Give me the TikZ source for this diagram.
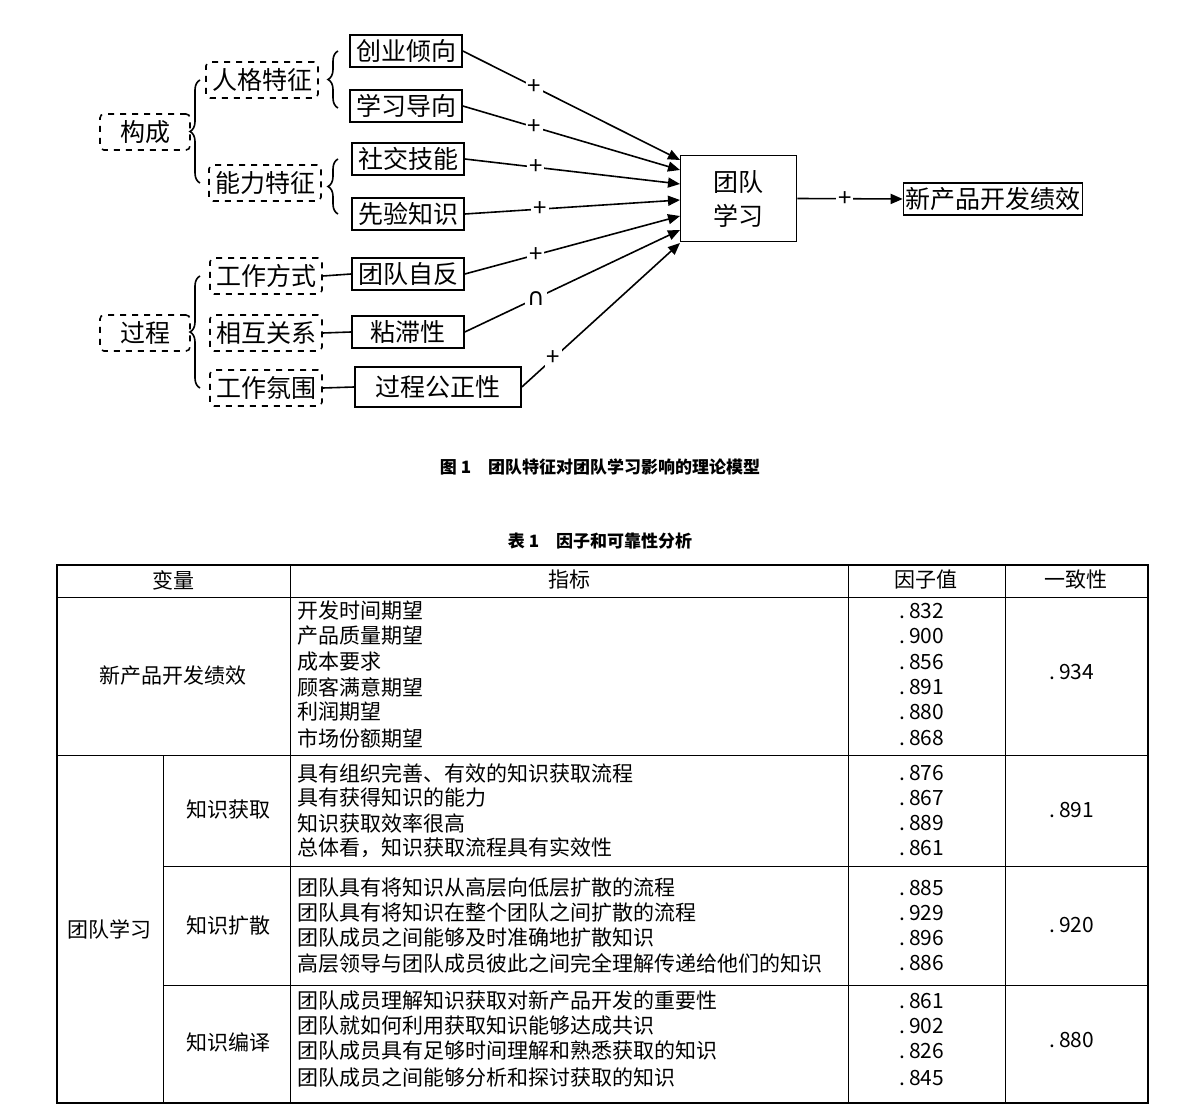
\documentclass[tikz,border=0pt]{standalone}
\usepackage{fontspec}
\setmainfont{Noto Sans CJK SC}
\newfontfamily\djv{DejaVu Sans}
\usetikzlibrary{decorations.pathreplacing,arrows.meta}
\begin{document}
\begin{tikzpicture}[x=0.5pt,y=-0.5pt,
  dbox/.style={draw,dashed,thick,rounded corners=2pt,minimum width=56pt,minimum height=18pt,inner sep=1pt,font=\fontsize{12.5}{14}\selectfont},
  sbox/.style={draw,thick,minimum width=56pt,minimum height=16pt,inner sep=1pt,font=\fontsize{12.5}{14}\selectfont},
  arr/.style={thick,-{Triangle[length=6pt,width=5pt]}},
  lab/.style={fill=white,inner sep=1pt,font=\fontsize{12}{12}\selectfont},
  brc/.style={decorate,decoration={brace,amplitude=5pt},thick},
  tx/.style={font=\fontsize{10.5}{11}\selectfont,inner sep=0pt},
  txl/.style={tx,anchor=west},
  captxt/.style={font=\bfseries\fontsize{8.5}{10}\selectfont}]
\useasboundingbox (0,0) rectangle (1200,1112);
% dashed boxes
\node[dbox,minimum width=45pt] (gc) at (145,132) {构成};
\node[dbox,minimum width=45pt] (gch) at (145,333) {过程};
\node[dbox] (rg) at (262,80) {人格特征};
\node[dbox] (nl) at (265,183) {能力特征};
\node[dbox] (gf) at (266,276) {工作方式};
\node[dbox] (xh) at (266,333) {相互关系};
\node[dbox] (fw) at (266,388) {工作氛围};
% solid boxes
\node[sbox] (cy) at (406,51) {创业倾向};
\node[sbox] (xx) at (406,106) {学习导向};
\node[sbox] (sj) at (408,159) {社交技能};
\node[sbox] (xy) at (408,214) {先验知识};
\node[sbox] (tz) at (408,274) {团队自反};
\node[sbox] (nz) at (408,332) {粘滞性};
\node[sbox,minimum width=83pt,minimum height=20pt] (gz) at (438,387) {过程公正性};
\node[draw,thick,minimum width=58pt,minimum height=43pt,align=center,font=\fontsize{12.5}{17}\selectfont] (tl) at (738.5,198.5) {团队\\学习};
\node[sbox,minimum width=88pt,font=\fontsize{12.5}{14}\selectfont] (xc) at (993,199) {新产品开发绩效};
% braces
\draw[brc] (200,183) -- (200,80);
\draw[brc] (338,108) -- (338,51);
\draw[brc] (338,214) -- (338,159);
\draw[brc] (200,388) -- (200,276);
\draw[thick] (gf.east) -- (tz.west);
\draw[thick] (xh.east) -- (nz.west);
\draw[thick] (fw.east) -- (gz.west);
% arrows to team learning
\coordinate (t1) at (680,160);
\coordinate (t2) at (680,170);
\coordinate (t3) at (680,184);
\coordinate (t4) at (680,200);
\coordinate (t5) at (680,216);
\coordinate (t6) at (680,230);
\coordinate (t7) at (680,243);
\draw[arr] (cy.east) -- node[lab,pos=0.33]{+} (t1);
\draw[arr] (xx.east) -- node[lab,pos=0.33]{+} (t2);
\draw[arr] (sj.east) -- node[lab,pos=0.33]{+} (t3);
\draw[arr] (xy.east) -- node[lab,pos=0.35]{+} (t4);
\draw[arr] (tz.east) -- node[lab,pos=0.33]{+} (t5);
\draw[arr] (nz.east) -- node[lab,pos=0.33,font=\djv\fontsize{12}{12}\selectfont]{∩} (t6);
\draw[arr] (gz.east) -- node[lab,pos=0.2]{+} (t7);
\draw[arr] (tl.east) -- node[lab,pos=0.45]{+} (xc.west);
% captions
\node[captxt] (c1) at (600,467) {图 1\quad 团队特征对团队学习影响的理论模型};
\node[captxt] (c2) at (600,541) {表 1\quad 因子和可靠性分析};
% table
\draw[thick] (57,565) rectangle (1148,1103);
\draw (57,597) -- (1148,597);
\draw (57,755) -- (1148,755);
\draw (163,866) -- (1148,866);
\draw (163,985) -- (1148,985);
\draw (290,565) -- (290,1103);
\draw (848,565) -- (848,1103);
\draw (1005,565) -- (1005,1103);
\draw (163,755) -- (163,1103);
\node[tx] (h1) at (173,580) {变量};
\node[tx] (h2) at (569,580) {指标};
\node[tx] (h3) at (926,580) {因子值};
\node[tx] (h4) at (1076,580) {一致性};
\node[tx] (v1) at (173,676) {新产品开发绩效};
\node[tx] (v2) at (110,929) {团队学习};
\node[tx] (v3) at (228,810) {知识获取};
\node[tx] (v4) at (228,926) {知识扩散};
\node[tx] (v5) at (228,1042) {知识编译};
\foreach \t/\v/\y in {开发时间期望/832/611,产品质量期望/900/636,成本要求/856/662,顾客满意期望/891/687,利润期望/880/712,市场份额期望/868/738,
 {具有组织完善、有效的知识获取流程}/876/773,具有获得知识的能力/867/798,知识获取效率很高/889/823,{总体看，知识获取流程具有实效性}/861/848,
 团队具有将知识从高层向低层扩散的流程/885/888,团队具有将知识在整个团队之间扩散的流程/929/913,团队成员之间能够及时准确地扩散知识/896/938,高层领导与团队成员彼此之间完全理解传递给他们的知识/886/963,
 团队成员理解知识获取对新产品开发的重要性/861/1001,团队就如何利用获取知识能够达成共识/902/1026,团队成员具有足够时间理解和熟悉获取的知识/826/1051,团队成员之间能够分析和探讨获取的知识/845/1078}{
 \node[txl] at (297,\y) {\t};
 \node[tx] at (922,\y) {.\,\v};
}
\node[tx] (a1) at (1072,672) {.\,934};
\node[tx] (a2) at (1072,810) {.\,891};
\node[tx] (a3) at (1072,925) {.\,920};
\node[tx] (a4) at (1072,1040) {.\,880};
\end{tikzpicture}
\end{document}
